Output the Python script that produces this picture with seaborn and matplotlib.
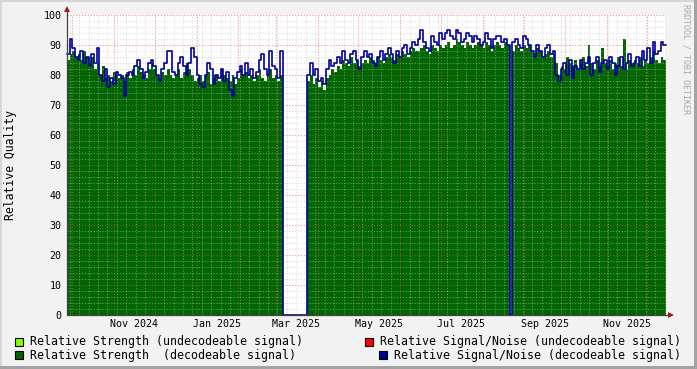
import numpy as np
import pandas as pd
import matplotlib
matplotlib.use("Agg")
import matplotlib.pyplot as plt
import matplotlib.dates as mdates
import matplotlib.ticker as mticker
import matplotlib.transforms as mtransforms
from matplotlib.patches import Rectangle
import seaborn as sns

# ---------------- data (one sample every 2 days) ----------------
start_date = "2024-09-27"
step_days = 2

strength_decodeable = [
    85, 87, 88, 86, 87, 85, 88, 86, 84, 86,
    82, 84, 80, 83, 79, 80, 78, 81, 80, 79,
    80, 78, 81, 79, 82, 80, 83, 81, 80, 79,
    82, 84, 82, 80, 79, 81, 80, 82, 80, 79,
    80, 82, 79, 81, 84, 82, 80, 78, 79, 80,
    78, 80, 81, 77, 79, 80, 78, 82, 80, 79,
    78, 80, 77, 79, 82, 80, 81, 79, 80, 78,
    80, 82, 79, 78, 80, 82, 79, 80, 78, 80,
    0, 0, 0, 0, 0, 0, 0, 0, 0, 78,
    80, 77, 79, 76, 78, 75, 79, 80, 82, 81,
    83, 82, 85, 84, 83, 86, 84, 85, 83, 84,
    85, 84, 86, 85, 84, 86, 85, 84, 86, 87,
    86, 85, 87, 86, 88, 87, 86, 88, 89, 88,
    88, 89, 90, 88, 87, 90, 89, 88, 90, 89,
    90, 91, 89, 90, 92, 91, 90, 89, 91, 90,
    89, 90, 91, 90, 89, 91, 90, 88, 90, 91,
    90, 89, 91, 90, 0, 88, 90, 89, 88, 90,
    89, 90, 88, 87, 89, 88, 86, 87, 88, 86,
    87, 84, 80, 83, 82, 86, 84, 83, 85, 82,
    84, 86, 83, 90, 84, 82, 85, 83, 89, 84,
    83, 85, 82, 84, 86, 83, 92, 82, 85, 84,
    85, 84, 86, 83, 85, 84, 86, 88, 85, 84, 86, 85,
]

snr_decodeable = [
    87, 92, 89, 86, 85, 88, 84, 86, 83, 87,
    84, 89, 80, 78, 82, 76, 79, 77, 81, 80,
    79, 73, 80, 81, 80, 83, 85, 82, 79, 81,
    84, 85, 83, 80, 78, 82, 84, 88, 88, 81,
    80, 84, 86, 83, 80, 84, 89, 86, 80, 77,
    76, 80, 84, 82, 77, 80, 79, 82, 78, 81,
    75, 73, 79, 81, 83, 80, 84, 80, 82, 79,
    81, 85, 87, 82, 80, 88, 83, 82, 79, 88,
    0, 0, 0, 0, 0, 0, 0, 0, 0, 80,
    84, 80, 82, 78, 79, 77, 82, 85, 83, 84,
    86, 84, 88, 85, 84, 87, 88, 85, 82, 86,
    88, 86, 87, 84, 83, 86, 88, 85, 87, 89,
    87, 84, 88, 86, 89, 90, 87, 89, 91, 90,
    92, 95, 91, 89, 88, 93, 91, 90, 94, 92,
    94, 95, 93, 92, 95, 94, 91, 92, 94, 93,
    91, 93, 92, 90, 91, 94, 92, 89, 92, 93,
    93, 91, 92, 90, 0, 91, 92, 90, 89, 93,
    92, 90, 88, 86, 90, 88, 86, 89, 90, 87,
    88, 80, 78, 82, 84, 80, 85, 79, 83, 82,
    85, 82, 84, 86, 80, 84, 86, 81, 84, 85,
    82, 86, 84, 80, 83, 86, 82, 84, 87, 83,
    84, 86, 83, 88, 85, 89, 84, 91, 87, 88, 91, 90,
]

month_labels = ["Nov 2024", "Jan 2025", "Mar 2025", "May 2025",
                "Jul 2025", "Sep 2025", "Nov 2025"]
month_label_dates = ["2024-11-16", "2025-01-16", "2025-03-16", "2025-05-16",
                     "2025-07-16", "2025-09-16", "2025-11-16"]
y_tick_values = list(range(0, 101, 10))

legend_left = ["Relative Strength (undecodeable signal)",
               "Relative Strength  (decodeable signal)"]
legend_right = ["Relative Signal/Noise (undecodeable signal)",
                "Relative Signal/Noise (decodeable signal)"]
y_title = "Relative Quality"
watermark = "RRDTOOL / TOBI OETIKER"

# ---------------- styling ----------------
C_LGREEN = "#80FF00"
C_DGREEN = "#006600"
C_RED = "#FF0000"
C_BLUE = "#000099"
C_BACK = "#F2F2F2"

sns.set_style("white")
plt.rcParams["font.family"] = ["DejaVu Sans Mono"]

W, H = 697, 369
fig = plt.figure(figsize=(W / 100, H / 100), dpi=100, facecolor=C_BACK)

L, R, T, B = 67, 666, 15, 315
ax = fig.add_axes([L / W, (H - B) / H, (R - L) / W, (B - T) / H])
ax.set_facecolor("white")

n = len(strength_decodeable)
dates = pd.date_range(start_date, periods=n + 1, freq=f"{step_days}D")
g_ext = list(strength_decodeable) + [strength_decodeable[-1]]
b_ext = list(snr_decodeable) + [snr_decodeable[-1]]
df = pd.DataFrame({"date": dates, "strength": g_ext, "snr": b_ext})

ax.fill_between(df["date"], 0, df["strength"], step="post",
                color=C_DGREEN, lw=0, zorder=1)
sns.lineplot(data=df, x="date", y="snr", ax=ax, drawstyle="steps-post",
             color=C_BLUE, lw=1.2, estimator=None, zorder=3, clip_on=False)

ax.set_xlim(dates[0], dates[-1])
ax.set_ylim(0, 100)
ax.set_xlabel("")
ax.set_ylabel("")

# grid
ax.xaxis.set_major_locator(mdates.MonthLocator())
ax.xaxis.set_minor_locator(mdates.WeekdayLocator(byweekday=mdates.SU))
ax.xaxis.set_major_formatter(mticker.NullFormatter())
ax.yaxis.set_major_locator(mticker.FixedLocator(y_tick_values))
ax.yaxis.set_minor_locator(mticker.MultipleLocator(2))
ax.set_axisbelow(False)
ax.grid(which="major", color="#DE5050", alpha=0.55, ls=(0, (1.2, 1.6)), lw=0.75)
ax.grid(which="minor", color="#C0C0C0", alpha=0.5, ls=(0, (1.2, 1.6)), lw=0.75)

ax.tick_params(axis="y", which="major", length=2.5, width=0.8, color="#404040",
               pad=1.5, labelsize=7.2, labelcolor="black")
ax.tick_params(axis="y", which="minor", length=1.5, width=0.6, color="#909090")
ax.tick_params(axis="x", which="major", length=2.5, width=0.8, color="#DE5050")
ax.tick_params(axis="x", which="minor", length=1.5, width=0.6, color="#A0A0A0")

for s in ax.spines.values():
    s.set_visible(False)

# axis lines with arrows
ax.plot([0, 0], [0, 1.02], transform=ax.transAxes, color="#404040",
        lw=0.9, clip_on=False, zorder=4)
ax.plot([0, 1.005], [0, 0], transform=ax.transAxes, color="#404040",
        lw=0.9, clip_on=False, zorder=4)
ax.plot([0], [1.02], marker="^", ms=5, color="#9B1C1C", transform=ax.transAxes,
        clip_on=False, zorder=5, mew=0)
ax.plot([1.008], [0], marker=">", ms=5, color="#9B1C1C", transform=ax.transAxes,
        clip_on=False, zorder=5, mew=0)

# month labels centered mid-month
trans = mtransforms.blended_transform_factory(ax.transData, ax.transAxes)
for lab, d in zip(month_labels, month_label_dates):
    ax.text(mdates.date2num(pd.Timestamp(d)), -0.031, lab, transform=trans,
            ha="center", va="center", fontsize=7.2, color="black")

# y title
fig.text(11 / W, 1 - 165 / H, y_title, rotation=90, ha="center", va="center",
         fontsize=8.3, color="black")

# watermark
fig.text(686 / W, 1 - 59 / H, watermark, rotation=-90, ha="center", va="center",
         fontsize=6.0, color="#A8A8A8")

# legend
def legend_item(x_box, y_c, color, text):
    fig.patches.append(Rectangle((x_box / W, 1 - (y_c + 4) / H), 8 / W, 8 / H,
                                 transform=fig.transFigure, facecolor=color,
                                 edgecolor="black", lw=0.8))
    fig.text((x_box + 15) / W, 1 - y_c / H, text, ha="left", va="center",
             fontsize=8.35, color="black")

legend_item(15, 341.5, C_LGREEN, legend_left[0])
legend_item(15, 355, C_DGREEN, legend_left[1])
legend_item(365, 341.5, C_RED, legend_right[0])
legend_item(379, 355, C_BLUE, legend_right[1])

# frame
fig.patches.append(Rectangle((0, 1 - 2 / H), 1, 2 / H, transform=fig.transFigure,
                             facecolor="#D6D6D6", lw=0))
fig.patches.append(Rectangle((0, 0), 2 / W, 1, transform=fig.transFigure,
                             facecolor="#D6D6D6", lw=0))
fig.patches.append(Rectangle((0, 0), 1, 3 / H, transform=fig.transFigure,
                             facecolor="#A3A3A3", lw=0))
fig.patches.append(Rectangle((1 - 3 / W, 0), 3 / W, 1, transform=fig.transFigure,
                             facecolor="#A3A3A3", lw=0))

fig.savefig("out.png", dpi=100, facecolor=C_BACK)
